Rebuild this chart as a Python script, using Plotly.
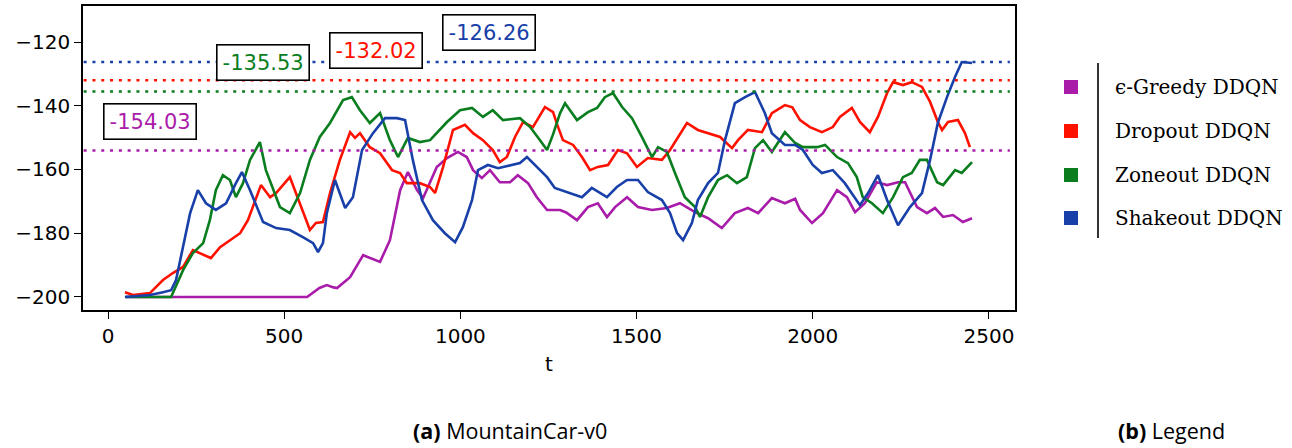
import plotly.graph_objects as go

# ---------------- data ----------------
names = ["ϵ-Greedy DDQN", "Dropout DDQN", "Zoneout DDQN", "Shakeout DDQN"]
colors = ["#a91ba9", "#ff1100", "#0a7d1e", "#1840a8"]

greedy_t = [50, 565, 600, 621, 640, 650, 687, 724, 772, 800, 829, 851, 877, 894, 933, 962, 993,
            1018, 1036, 1061, 1084, 1112, 1141, 1163, 1192, 1217, 1246, 1283, 1300, 1331, 1362,
            1390, 1416, 1439, 1473, 1504, 1544, 1586, 1623, 1666, 1703, 1742, 1779, 1816, 1845,
            1884, 1921, 1950, 1964, 1998, 2029, 2069, 2097, 2120, 2148, 2182, 2211, 2242, 2262,
            2296, 2324, 2347, 2370, 2398, 2426, 2452]
greedy_y = [-200, -200, -197.2, -196.3, -197.0, -197.2, -193.8, -186.9, -189.0, -182.2, -166.5,
            -160.8, -166.5, -169.0, -159.2, -156.4, -154.5, -156.1, -160.2, -162.7, -160.2, -164.0,
            -164.0, -161.8, -164.3, -168.7, -172.7, -172.7, -173.5, -175.9, -171.8, -170.6, -174.9,
            -171.8, -168.7, -171.8, -172.7, -172.1, -170.6, -173.4, -175.3, -178.4, -173.7, -172.1,
            -173.7, -169.0, -170.6, -169.2, -172.7, -176.8, -173.7, -166.5, -168.7, -173.4, -170.6,
            -164.0, -164.9, -164.0, -164.0, -171.8, -173.7, -172.1, -174.9, -174.3, -176.5, -175.3]

dropout_t = [48, 71, 119, 156, 184, 213, 241, 261, 292, 318, 346, 375, 397, 420, 434, 460, 477,
             516, 545, 573, 590, 610, 630, 658, 687, 701, 715, 743, 772, 806, 829, 848, 885, 914,
             928, 951, 979, 1013, 1036, 1064, 1092, 1112, 1132, 1155, 1178, 1206, 1240, 1263, 1275,
             1291, 1320, 1345, 1368, 1390, 1419, 1447, 1473, 1501, 1532, 1572, 1595, 1617, 1643,
             1674, 1703, 1737, 1771, 1788, 1816, 1856, 1884, 1921, 1942, 1964, 1992, 2026, 2057,
             2077, 2111, 2134, 2162, 2185, 2211, 2228, 2256, 2281, 2310, 2333, 2355, 2367, 2384,
             2412, 2432, 2446]
dropout_y = [-198.5, -199.4, -198.8, -194.7, -192.5, -190.6, -185.3, -186.2, -187.8, -184.4,
             -182.2, -180.0, -175.9, -168.7, -164.9, -168.7, -167.4, -162.4, -170.6, -179.0,
             -176.8, -176.5, -167.4, -157.0, -148.3, -150.1, -148.6, -153.0, -154.9, -160.2,
             -161.1, -164.3, -164.3, -165.5, -167.4, -159.2, -147.6, -146.0, -148.6, -150.8,
             -153.9, -157.7, -156.1, -149.8, -145.1, -146.7, -140.4, -142.0, -146.0, -150.8,
             -152.3, -156.1, -160.2, -159.2, -158.6, -153.9, -154.9, -159.2, -156.4, -157.0,
             -153.9, -149.8, -145.4, -147.6, -148.6, -149.8, -153.3, -150.8, -147.6, -148.3,
             -142.3, -139.8, -140.5, -144.5, -146.7, -148.3, -146.7, -143.5, -140.7, -145.1,
             -148.3, -143.5, -136.0, -132.6, -133.5, -132.6, -134.1, -138.8, -145.1, -147.6,
             -145.1, -144.5, -148.6, -153.0]

zoneout_t = [50, 179, 213, 241, 270, 289, 306, 326, 346, 363, 383, 403, 431, 448, 488, 516, 545,
             573, 601, 630, 667, 692, 715, 743, 772, 800, 823, 851, 885, 914, 962, 999, 1033, 1064,
             1092, 1121, 1169, 1198, 1226, 1246, 1263, 1283, 1297, 1331, 1362, 1388, 1410, 1433,
             1459, 1487, 1515, 1544, 1561, 1586, 1609, 1637, 1666, 1680, 1703, 1731, 1757, 1785,
             1813, 1836, 1859, 1884, 1921, 1950, 1972, 2012, 2035, 2069, 2100, 2125, 2142, 2168,
             2199, 2228, 2256, 2281, 2304, 2324, 2353, 2370, 2404, 2423, 2452]
zoneout_y = [-200, -200, -191.6, -186.2, -183.1, -175.9, -166.5, -161.8, -163.3, -168.7, -164.3,
             -157.0, -151.4, -160.2, -171.8, -173.7, -167.4, -157.0, -149.8, -145.4, -138.2,
             -137.3, -141.4, -145.4, -142.3, -150.8, -156.1, -150.1, -151.4, -150.8, -145.1,
             -141.4, -140.7, -143.5, -141.4, -144.5, -143.9, -146.7, -150.8, -153.9, -149.0,
             -142.3, -139.2, -144.5, -142.0, -140.7, -137.3, -136.0, -140.4, -143.9, -149.8,
             -156.1, -153.0, -154.5, -161.1, -168.7, -171.8, -174.9, -168.7, -163.3, -161.8,
             -164.3, -162.4, -153.3, -150.8, -154.5, -148.3, -151.7, -153.0, -153.0, -152.3,
             -156.1, -158.0, -162.4, -168.7, -170.6, -173.7, -168.7, -162.4, -161.1, -157.0,
             -157.0, -164.0, -164.9, -160.2, -161.1, -157.7]

shakeout_t = [48, 119, 156, 179, 193, 213, 233, 255, 278, 306, 335, 363, 380, 403, 440, 477, 516,
              553, 582, 596, 610, 621, 644, 673, 695, 721, 752, 786, 820, 843, 865, 891, 922, 956,
              985, 1007, 1033, 1050, 1078, 1107, 1141, 1169, 1189, 1217, 1246, 1268, 1305, 1345,
              1373, 1416, 1444, 1473, 1504, 1532, 1572, 1595, 1615, 1632, 1657, 1674, 1703, 1731,
              1751, 1779, 1808, 1836, 1864, 1884, 1921, 1950, 1972, 2000, 2026, 2057, 2091, 2134,
              2157, 2185, 2211, 2242, 2276, 2310, 2333, 2355, 2381, 2404, 2423, 2452]
shakeout_y = [-200, -199.4, -198.5, -197.9, -194.7, -184.4, -173.7, -166.5, -170.6, -172.7,
              -170.6, -164.3, -160.8, -166.5, -176.5, -178.4, -179.0, -181.2, -183.1, -185.9,
              -183.1, -173.7, -163.3, -172.1, -168.7, -153.9, -148.6, -143.9, -143.9, -144.5,
              -157.0, -169.6, -175.9, -180.0, -182.8, -178.1, -169.6, -160.2, -158.6, -159.6,
              -158.6, -158.0, -156.1, -159.2, -162.4, -165.8, -167.1, -168.7, -165.8, -168.7,
              -165.5, -163.3, -163.3, -167.1, -169.6, -173.7, -180.0, -182.2, -176.8, -169.6,
              -164.3, -161.1, -150.8, -139.2, -137.3, -135.7, -142.3, -148.6, -152.3, -152.3,
              -153.9, -158.6, -161.1, -160.2, -164.3, -171.2, -167.4, -161.8, -169.6, -177.5,
              -171.8, -167.4, -157.0, -145.4, -137.3, -130.9, -126.3, -126.6]

best_values = [-154.03, -132.02, -135.53, -126.26]
x_ticks = [0, 500, 1000, 1500, 2000, 2500]
y_ticks = [-200, -180, -160, -140, -120]

series_t = [greedy_t, dropout_t, zoneout_t, shakeout_t]
series_y = [greedy_y, dropout_y, zoneout_y, shakeout_y]

# label box anchor positions (data coords)
label_pos = [(119, -144.8), (761, -122.8), (440, -126.3), (1081, -116.9)]

W, H = 1292, 448
L, R, T, B = 83, 1015, 6, 310

fig = go.Figure()
for t, y, c, n in zip(series_t, series_y, colors, names):
    fig.add_trace(go.Scatter(x=t, y=y, mode="lines", name=n,
                             line=dict(color=c, width=2.6), showlegend=False))

for v, c in zip(best_values, colors):
    fig.add_shape(type="line", xref="paper", yref="y", x0=L / W + 0.0005, x1=R / W - 0.004,
                  y0=v, y1=v, line=dict(color=c, width=2.6, dash="3px,5.8px"))

for (px, py), v, c in zip(label_pos, best_values, colors):
    fig.add_annotation(x=px, y=py, xref="x", yref="y", text=f"{v:.2f}", showarrow=False,
                       font=dict(family="DejaVu Sans", size=21, color=c),
                       bgcolor="white", bordercolor="black", borderwidth=1.6, borderpad=5)

# legend panel
leg_y = [87, 131, 175, 218]
for n, c, yy in zip(names, colors, leg_y):
    fig.add_shape(type="rect", xref="paper", yref="paper",
                  x0=(1071 - 7) / W, x1=(1071 + 7) / W,
                  y0=1 - (yy + 7) / H, y1=1 - (yy - 7) / H,
                  line=dict(width=0), fillcolor=c)
    fig.add_annotation(x=1113 / W, y=1 - yy / H, xref="paper", yref="paper", text=n,
                       showarrow=False, xanchor="left", yanchor="middle",
                       font=dict(family="DejaVu Serif", size=20, color="black"))
fig.add_shape(type="line", xref="paper", yref="paper", x0=1098 / W, x1=1098 / W,
              y0=1 - 63 / H, y1=1 - 238 / H, line=dict(color="black", width=1.6))

# captions
fig.add_annotation(x=411 / W, y=0, xref="paper", yref="paper", xanchor="left",
                   yanchor="bottom", yshift=1,
                   text="<b>(a)</b> MountainCar-v0", showarrow=False,
                   font=dict(family="Open Sans", size=21.5, color="black"))
fig.add_annotation(x=1116 / W, y=0, xref="paper", yref="paper", xanchor="left",
                   yanchor="bottom", yshift=1,
                   text="<b>(b)</b> Legend", showarrow=False,
                   font=dict(family="Open Sans", size=21.5, color="black"))

fig.update_layout(
    width=W, height=H, margin=dict(l=0, r=0, t=0, b=0),
    paper_bgcolor="white", plot_bgcolor="white",
    xaxis=dict(domain=[L / W, R / W], range=[-71, 2574], tickvals=x_ticks,
               ticks="outside", ticklen=7, tickwidth=1.4, tickcolor="black",
               showline=True, linecolor="black", linewidth=1.6, mirror=True,
               showgrid=False, zeroline=False,
               tickfont=dict(family="DejaVu Sans", size=20, color="black"),
               title=dict(text="t", font=dict(family="DejaVu Sans", size=20, color="black"),
                          standoff=10)),
    yaxis=dict(domain=[1 - B / H, 1 - T / H], range=[-204.1, -108.7], tickvals=y_ticks,
               ticks="outside", ticklen=7, tickwidth=1.4, tickcolor="black",
               showline=True, linecolor="black", linewidth=1.6, mirror=True,
               showgrid=False, zeroline=False,
               tickfont=dict(family="DejaVu Sans", size=20, color="black")),
)

fig.write_html("out.html")
